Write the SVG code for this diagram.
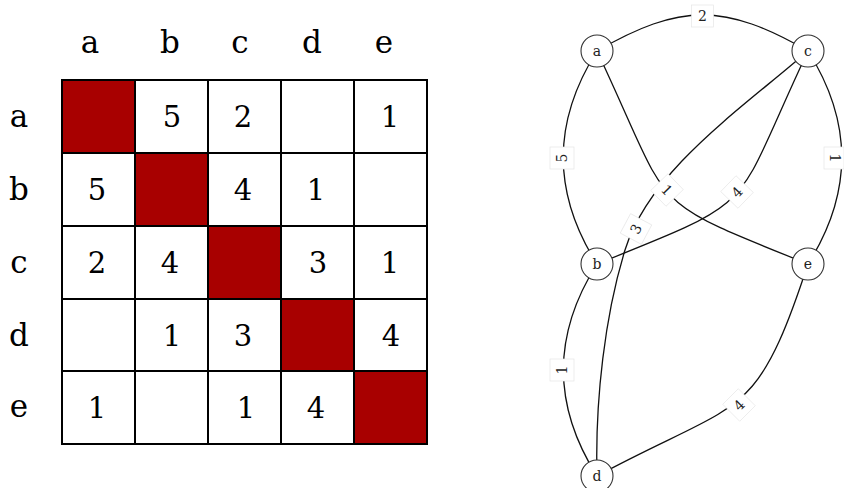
<svg xmlns="http://www.w3.org/2000/svg" width="844" height="488" viewBox="0 0 844 488">
<style>
  .cell{fill:#ffffff;stroke:#000;stroke-width:2}
  .diag{fill:#a80000;stroke:#000;stroke-width:2}
  .big{font-family:"DejaVu Serif","Liberation Serif",serif;font-size:29px;fill:#000;text-anchor:middle}
  .hdr{font-family:"DejaVu Serif","Liberation Serif",serif;font-size:31px;fill:#000;text-anchor:middle}
  .edge{fill:none;stroke:#111;stroke-width:1.3}
  .lbox{fill:#fff;stroke:#e6e6e6;stroke-width:0.7}
  .ltxt{font-family:"DejaVu Serif","Liberation Serif",serif;font-size:14px;fill:#222;text-anchor:middle}
  .node circle{fill:#fff;stroke:#333;stroke-width:1.1}
  .node text{font-family:"DejaVu Serif","Liberation Serif",serif;font-size:14px;fill:#222;text-anchor:middle}
</style>
<rect width="844" height="488" fill="#fff"/>
<g id="matrix">
  <g id="headers">
    <text class="hdr" x="90" y="53">a</text>
    <text class="hdr" x="170" y="53">b</text>
    <text class="hdr" x="240" y="53">c</text>
    <text class="hdr" x="312" y="53">d</text>
    <text class="hdr" x="384" y="53">e</text>
    <text class="hdr" x="19" y="127">a</text>
    <text class="hdr" x="19" y="200">b</text>
    <text class="hdr" x="19" y="273">c</text>
    <text class="hdr" x="19" y="346">d</text>
    <text class="hdr" x="19" y="417">e</text>
  </g>
  <g id="cells">
    <rect class="diag" x="62" y="80" width="73" height="73"/>
    <rect class="cell" x="135" y="80" width="73" height="73"/>
    <rect class="cell" x="208" y="80" width="73" height="73"/>
    <rect class="cell" x="281" y="80" width="73" height="73"/>
    <rect class="cell" x="354" y="80" width="73" height="73"/>
    <rect class="cell" x="62" y="153" width="73" height="73"/>
    <rect class="diag" x="135" y="153" width="73" height="73"/>
    <rect class="cell" x="208" y="153" width="73" height="73"/>
    <rect class="cell" x="281" y="153" width="73" height="73"/>
    <rect class="cell" x="354" y="153" width="73" height="73"/>
    <rect class="cell" x="62" y="226" width="73" height="73"/>
    <rect class="cell" x="135" y="226" width="73" height="73"/>
    <rect class="diag" x="208" y="226" width="73" height="73"/>
    <rect class="cell" x="281" y="226" width="73" height="73"/>
    <rect class="cell" x="354" y="226" width="73" height="73"/>
    <rect class="cell" x="62" y="299" width="73" height="72"/>
    <rect class="cell" x="135" y="299" width="73" height="72"/>
    <rect class="cell" x="208" y="299" width="73" height="72"/>
    <rect class="diag" x="281" y="299" width="73" height="72"/>
    <rect class="cell" x="354" y="299" width="73" height="72"/>
    <rect class="cell" x="62" y="371" width="73" height="73"/>
    <rect class="cell" x="135" y="371" width="73" height="73"/>
    <rect class="cell" x="208" y="371" width="73" height="73"/>
    <rect class="cell" x="281" y="371" width="73" height="73"/>
    <rect class="diag" x="354" y="371" width="73" height="73"/>
  </g>
  <g id="values">
    <text class="big" x="172" y="127">5</text>
    <text class="big" x="243" y="127">2</text>
    <text class="big" x="390" y="127">1</text>
    <text class="big" x="97" y="200">5</text>
    <text class="big" x="243" y="200">4</text>
    <text class="big" x="316" y="200">1</text>
    <text class="big" x="97" y="273">2</text>
    <text class="big" x="170" y="273">4</text>
    <text class="big" x="318" y="273">3</text>
    <text class="big" x="390" y="273">1</text>
    <text class="big" x="172" y="346">1</text>
    <text class="big" x="243" y="346">3</text>
    <text class="big" x="391" y="346">4</text>
    <text class="big" x="97" y="418">1</text>
    <text class="big" x="246" y="418">1</text>
    <text class="big" x="316" y="418">4</text>
  </g>
</g>
<g id="connectors">
  <path id="e-ac" class="edge" d="M597,51 C680,3 725,3 808,51"/>
  <path id="e-ab" class="edge" d="M597,51 C552,122 552,193 597,264"/>
  <path id="e-ce" class="edge" d="M808,51 C853,122 853,193 808,264"/>
  <path id="e-bd" class="edge" d="M597,264 C552,335 552,405 597,476"/>
  <path id="e-ae" class="edge" d="M597,51 C674,214 641,197 808,264"/>
  <path id="e-cb" class="edge" d="M808,51 C731,214 764,197 597,264"/>
  <path id="e-cd" class="edge" d="M808,51 C740,110 650,170 625,250 C605,315 595,400 597,476"/>
  <path id="e-ed" class="edge" d="M808,264 C755,425 742,398 597,476"/>
</g>
<g id="edge-labels">
  <g transform="translate(702.5,16)"><rect class="lbox" x="-11" y="-11" width="22" height="22"/><text class="ltxt" y="5">2</text></g>
  <g transform="translate(562,158) rotate(-90)"><rect class="lbox" x="-11" y="-12" width="22" height="24"/><text class="ltxt" y="5">5</text></g>
  <g transform="translate(834,158) rotate(90)"><rect class="lbox" x="-11" y="-10" width="22" height="20"/><text class="ltxt" y="4" font-size="13">1</text></g>
  <g transform="translate(562,370) rotate(-90)"><rect class="lbox" x="-11" y="-12" width="22" height="24"/><text class="ltxt" y="5">1</text></g>
  <g transform="translate(667,190) rotate(46)"><rect class="lbox" x="-11" y="-12" width="22" height="24"/><text class="ltxt" y="5">1</text></g>
  <g transform="translate(737,192) rotate(-46)"><rect class="lbox" x="-11" y="-12" width="22" height="24"/><text class="ltxt" y="5">4</text></g>
  <g transform="translate(636,229) rotate(-62)"><rect class="lbox" x="-11" y="-12" width="22" height="24"/><text class="ltxt" y="5">3</text></g>
  <g transform="translate(739,405) rotate(-45)"><rect class="lbox" x="-11" y="-12" width="22" height="24"/><text class="ltxt" y="5">4</text></g>
</g>
<g id="node-a" class="node"><circle cx="597" cy="51" r="16"/><text x="597" y="56">a</text></g>
<g id="node-c" class="node"><circle cx="808" cy="51" r="16"/><text x="808" y="56">c</text></g>
<g id="node-b" class="node"><circle cx="597" cy="264" r="16"/><text x="597" y="269">b</text></g>
<g id="node-e" class="node"><circle cx="808" cy="264" r="16"/><text x="808" y="269">e</text></g>
<g id="node-d" class="node"><circle cx="597" cy="476" r="16"/><text x="597" y="481">d</text></g>
</svg>
